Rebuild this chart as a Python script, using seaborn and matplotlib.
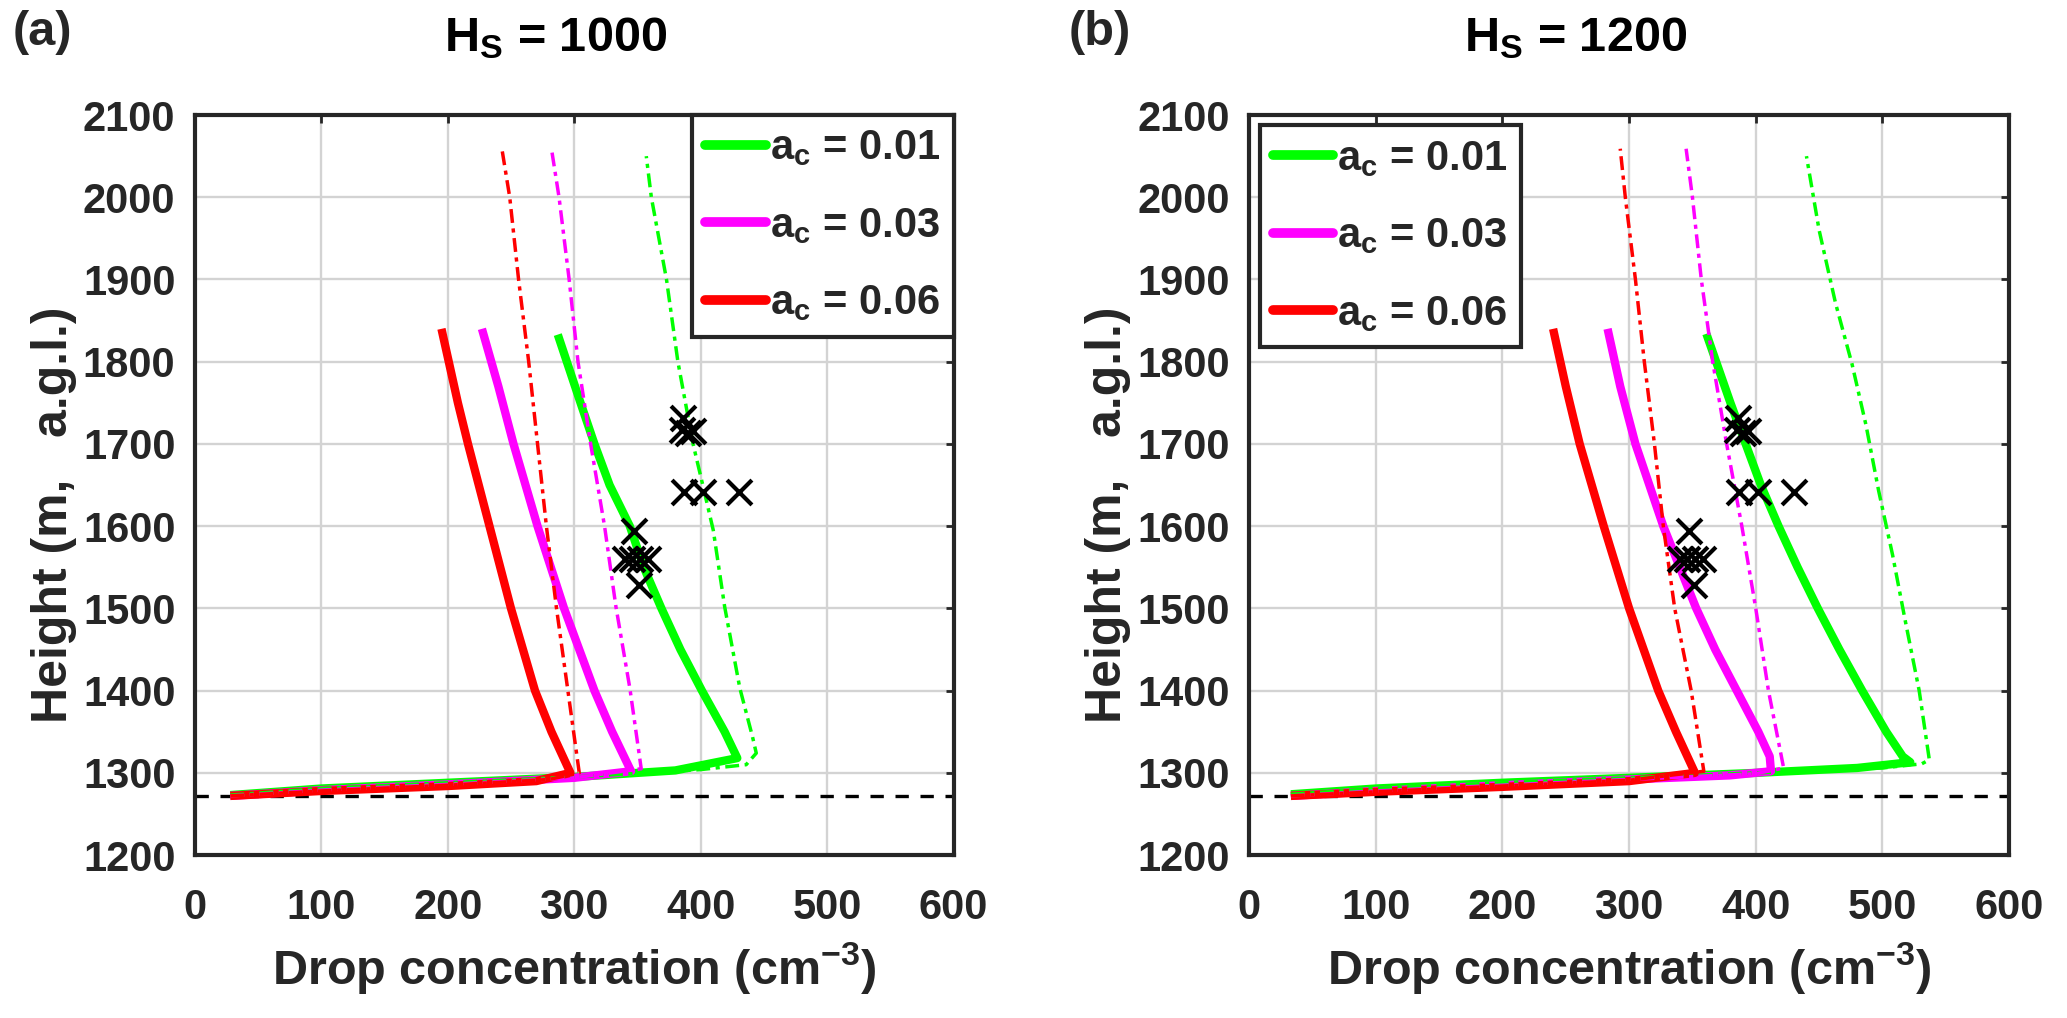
import numpy as np
import pandas as pd
import matplotlib
matplotlib.use("Agg")
import matplotlib.pyplot as plt
import seaborn as sns
from matplotlib.lines import Line2D

# ---------------- data ----------------
panel_tags = ["(a)", "(b)"]
hs_values = ["1000", "1200"]
ac_labels = ["0.01", "0.03", "0.06"]
cloud_base = 1272

# Panel (a): H_S = 1000
a_grn_N = [28, 100, 200, 300, 380, 429, 419, 401, 384, 369, 355, 344, 328, 316, 305, 287]
a_grn_H = [1273, 1281, 1288, 1295, 1303, 1318, 1350, 1400, 1450, 1500, 1550, 1600, 1650, 1700, 1750, 1833]
a_mag_N = [28, 100, 200, 300, 345, 330, 316, 292, 271, 252, 240, 227]
a_mag_H = [1272, 1279, 1286, 1294, 1302, 1350, 1400, 1500, 1600, 1700, 1770, 1840]
a_red_N = [28, 100, 200, 270, 297, 282, 269, 250, 233, 216, 208, 195]
a_red_H = [1272, 1278, 1284, 1290, 1300, 1350, 1400, 1500, 1600, 1700, 1750, 1840]
a_grnd_N = [28, 100, 200, 300, 400, 436, 444, 441, 431, 419, 410, 402, 394, 382, 373, 361, 357]
a_grnd_H = [1273, 1281, 1288, 1295, 1304, 1310, 1324, 1344, 1403, 1502, 1595, 1648, 1700, 1800, 1900, 2000, 2050]
a_magd_N = [28, 100, 200, 300, 353, 344, 333, 324, 313, 303, 296, 288, 282]
a_magd_H = [1272, 1279, 1286, 1294, 1305, 1403, 1502, 1600, 1700, 1800, 1900, 2000, 2059]
a_redd_N = [28, 100, 200, 280, 304, 295, 286, 278, 271, 264, 256, 249, 243]
a_redd_H = [1272, 1278, 1285, 1292, 1300, 1400, 1500, 1600, 1700, 1800, 1900, 2000, 2057]

# Panel (b): H_S = 1200
b_grn_N = [33, 100, 200, 300, 400, 480, 522, 516, 503, 484, 466, 449, 433, 418, 404, 392, 380, 361]
b_grn_H = [1274, 1281, 1288, 1294, 1300, 1306, 1313, 1320, 1350, 1400, 1450, 1500, 1550, 1600, 1650, 1700, 1750, 1834]
b_mag_N = [33, 100, 200, 300, 380, 412, 411, 402, 385, 368, 353, 327, 305, 293, 283]
b_mag_H = [1272, 1278, 1285, 1292, 1297, 1302, 1320, 1350, 1400, 1450, 1500, 1600, 1700, 1770, 1840]
b_red_N = [33, 100, 200, 300, 352, 337, 323, 300, 280, 261, 250, 240]
b_red_H = [1272, 1277, 1283, 1290, 1300, 1350, 1400, 1500, 1600, 1700, 1770, 1840]
b_grnd_N = [33, 100, 200, 300, 400, 500, 531, 537, 529, 518, 508, 497, 487, 476, 463, 450, 440]
b_grnd_H = [1274, 1281, 1288, 1294, 1300, 1306, 1311, 1316, 1400, 1485, 1565, 1643, 1723, 1797, 1871, 1960, 2050]
b_magd_N = [33, 100, 200, 300, 400, 422, 410, 400, 389, 377, 366, 357, 350, 345]
b_magd_H = [1272, 1278, 1285, 1292, 1299, 1306, 1400, 1500, 1600, 1700, 1800, 1900, 2000, 2059]
b_redd_N = [33, 100, 200, 300, 359, 349, 336, 327, 320, 312, 305, 297, 293]
b_redd_H = [1272, 1277, 1284, 1291, 1302, 1400, 1500, 1600, 1700, 1800, 1900, 2000, 2059]

# Observations (x markers), same in both panels
obs_N = [386, 385, 390, 394, 387, 402, 430, 347, 340, 346, 352, 358, 351]
obs_H = [1732, 1717, 1713, 1716, 1642, 1642, 1642, 1594, 1560, 1560, 1560, 1560, 1528]

x_ticks = [0, 100, 200, 300, 400, 500, 600]
y_ticks = [1200, 1300, 1400, 1500, 1600, 1700, 1800, 1900, 2000, 2100]

# ---------------- style ----------------
sns.set_theme(style="white")
plt.rcParams["font.family"] = ["Liberation Sans", "DejaVu Sans"]
plt.rcParams["font.weight"] = "bold"
plt.rcParams["mathtext.fontset"] = "custom"
plt.rcParams["mathtext.rm"] = "Liberation Sans:bold"
plt.rcParams["mathtext.it"] = "Liberation Sans:bold"
plt.rcParams["mathtext.bf"] = "Liberation Sans:bold"
plt.rcParams["mathtext.default"] = "bf"

colors = ["#00ff00", "#ff00ff", "#ff0000"]
FS_TICK = 30
FS_LAB = 35
FS_LEG = 30
TXT = "#262626"

fig = plt.figure(figsize=(20.67, 10.18), dpi=100)
ax_a = fig.add_axes([0.0943, 0.160, 0.367, 0.727])
ax_b = fig.add_axes([0.6043, 0.160, 0.3677, 0.727])

panels = [
    (ax_a, [(a_grn_N, a_grn_H), (a_mag_N, a_mag_H), (a_red_N, a_red_H)],
     [(a_grnd_N, a_grnd_H), (a_magd_N, a_magd_H), (a_redd_N, a_redd_H)],
     "upper right", 0.0, 0.475),
    (ax_b, [(b_grn_N, b_grn_H), (b_mag_N, b_mag_H), (b_red_N, b_red_H)],
     [(b_grnd_N, b_grnd_H), (b_magd_N, b_magd_H), (b_redd_N, b_redd_H)],
     "upper left", 0.25, 0.43),
]

for i, (ax, solids, dashes, loc, bpad, tx) in enumerate(panels):
    ax.set_axisbelow(True)
    ax.grid(True, color="#d3d3d3", linewidth=1.7)
    # cloud base
    sns.lineplot(x=[0, 600], y=[cloud_base, cloud_base], ax=ax, color="black",
                 linewidth=2.4, linestyle=(0, (4, 3.5)), sort=False, estimator=None)
    for (N, H), c in zip(solids, colors):
        sns.lineplot(x=N, y=H, ax=ax, color=c, linewidth=6, sort=False,
                     estimator=None, solid_capstyle="butt", solid_joinstyle="round")
    for (N, H), c in zip(dashes, colors):
        sns.lineplot(x=N, y=H, ax=ax, color=c, linewidth=2.5, sort=False,
                     estimator=None, linestyle=(0, (4, 1.6, 1.2, 1.6)))
    sns.scatterplot(x=obs_N, y=obs_H, ax=ax, marker="x", color="black", s=320,
                    linewidth=3, zorder=5)

    ax.set_xlim(0, 600)
    ax.set_ylim(1200, 2100)
    ax.set_xticks(x_ticks)
    ax.set_yticks(y_ticks)
    ax.tick_params(axis="both", which="both", direction="in", length=6, width=2,
                   labelsize=FS_TICK, top=True, right=True)
    ax.tick_params(axis="x", pad=24)
    ax.tick_params(axis="y", pad=14)
    for lab in ax.get_xticklabels() + ax.get_yticklabels():
        lab.set_fontweight("bold")
        lab.set_color(TXT)
    for sp in ax.spines.values():
        sp.set_linewidth(3)
        sp.set_color(TXT)
    ax.set_xlabel("Drop concentration (cm$^{-3}$)", fontsize=FS_LAB, fontweight="bold",
                  color=TXT, labelpad=8)
    ax.set_ylabel("Height (m,   a.g.l.)", fontsize=36, fontweight="bold",
                  color=TXT, labelpad=4)
    ax.yaxis.label.set_y(0.46)
    ax.set_title("H$_S$ = " + hs_values[i], fontsize=FS_LAB, fontweight="bold",
                 color="black", pad=46, x=tx)

    handles = [Line2D([0], [0], color=c, linewidth=7) for c in colors]
    labels = ["a$_c$ = " + v for v in ac_labels]
    leg = ax.legend(handles, labels, loc=loc, fontsize=FS_LEG, frameon=True,
                    fancybox=False, framealpha=1, edgecolor=TXT,
                    handlelength=1.45, handletextpad=0.1, labelspacing=0.9,
                    borderpad=0.32, borderaxespad=bpad)
    leg.get_frame().set_linewidth(3)
    for t in leg.get_texts():
        t.set_fontweight("bold")

fig.text(0.006, 0.968, panel_tags[0], fontsize=FS_LAB, fontweight="bold", va="center")
fig.text(0.517, 0.968, panel_tags[1], fontsize=FS_LAB, fontweight="bold", va="center")

fig.savefig("out.png", dpi=100)
